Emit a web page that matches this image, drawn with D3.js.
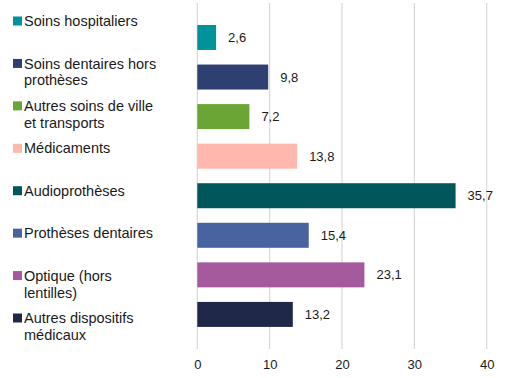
<!DOCTYPE html>
<html><head><meta charset="utf-8">
<script src="https://cdn.jsdelivr.net/npm/d3@7"></script>
<style>html,body{margin:0;padding:0;background:#fff;}</style>
</head><body>
<svg id="c" width="514" height="378"></svg>
<script>
const categories = ["Soins hospitaliers","Soins dentaires hors prothèses","Autres soins de ville et transports","Médicaments","Audioprothèses","Prothèses dentaires","Optique (hors lentilles)","Autres dispositifs médicaux"];
const labelLines = [["Soins hospitaliers"],["Soins dentaires hors","prothèses"],["Autres soins de ville","et transports"],["Médicaments"],["Audioprothèses"],["Prothèses dentaires"],["Optique (hors","lentilles)"],["Autres dispositifs","médicaux"]];
const values = [2.6, 9.8, 7.2, 13.8, 35.7, 15.4, 23.1, 13.2];
const colors = ["#00939a","#2e3f72","#6aa535","#ffb7ae","#00565b","#4963a0","#a65a9e","#1f2848"];
const ticks = [0,10,20,30,40];

const svg = d3.select("#c");
const font = "Liberation Sans, Arial, sans-serif";
const x = d3.scaleLinear().domain([0,40]).range([197.3,486.7]);
const y = d3.scaleBand().domain(categories).range([17.7,334.2]).paddingInner(0.37).paddingOuter(0.185);
const ly = d3.scalePoint().domain(categories).range([21,318]);

// gridlines
svg.append("g").selectAll("line").data(ticks).join("line")
  .attr("x1",d=>x(d)).attr("x2",d=>x(d)).attr("y1",3).attr("y2",349)
  .attr("stroke","#d9d9d9").attr("stroke-width",1.2);

// axis tick labels
const axis = d3.axisBottom(x).tickValues(ticks).tickSize(0).tickPadding(0);
const ag = svg.append("g").attr("transform","translate(0,360)").call(axis);
ag.select(".domain").remove();
ag.selectAll("text").attr("font-family",font).attr("font-size",13).attr("fill","#1a1a1a");

// bars
svg.append("g").selectAll("rect").data(values).join("rect")
  .attr("x",x(0)).attr("y",(d,i)=>y(categories[i])+ (y.bandwidth()-25)/2)
  .attr("width",d=>x(d)-x(0)).attr("height",25)
  .attr("fill",(d,i)=>colors[i]);

// value labels
svg.append("g").selectAll("text").data(values).join("text")
  .attr("x",d=>x(d)+12).attr("y",(d,i)=>y(categories[i])+y.bandwidth()/2)
  .attr("dy","0.35em").attr("font-family",font).attr("font-size",13).attr("fill","#1a1a1a")
  .text(d=>d3.format(".1f")(d).replace(".",","));

// legend
const lg = svg.append("g").selectAll("g").data(categories).join("g")
  .attr("transform",d=>`translate(0,${ly(d)})`);
lg.append("rect").attr("x",13).attr("y",-4.5).attr("width",9).attr("height",9)
  .attr("fill",(d,i)=>colors[i]);
lg.append("text").attr("font-family",font).attr("font-size",14.5).attr("fill","#1a1a1a")
  .each(function(d,i){
    const t = d3.select(this);
    labelLines[i].forEach((ln,j)=>{
      t.append("tspan").attr("x",24).attr("y",j*17).attr("dy","0.35em").text(ln);
    });
  });
</script>
</body></html>
